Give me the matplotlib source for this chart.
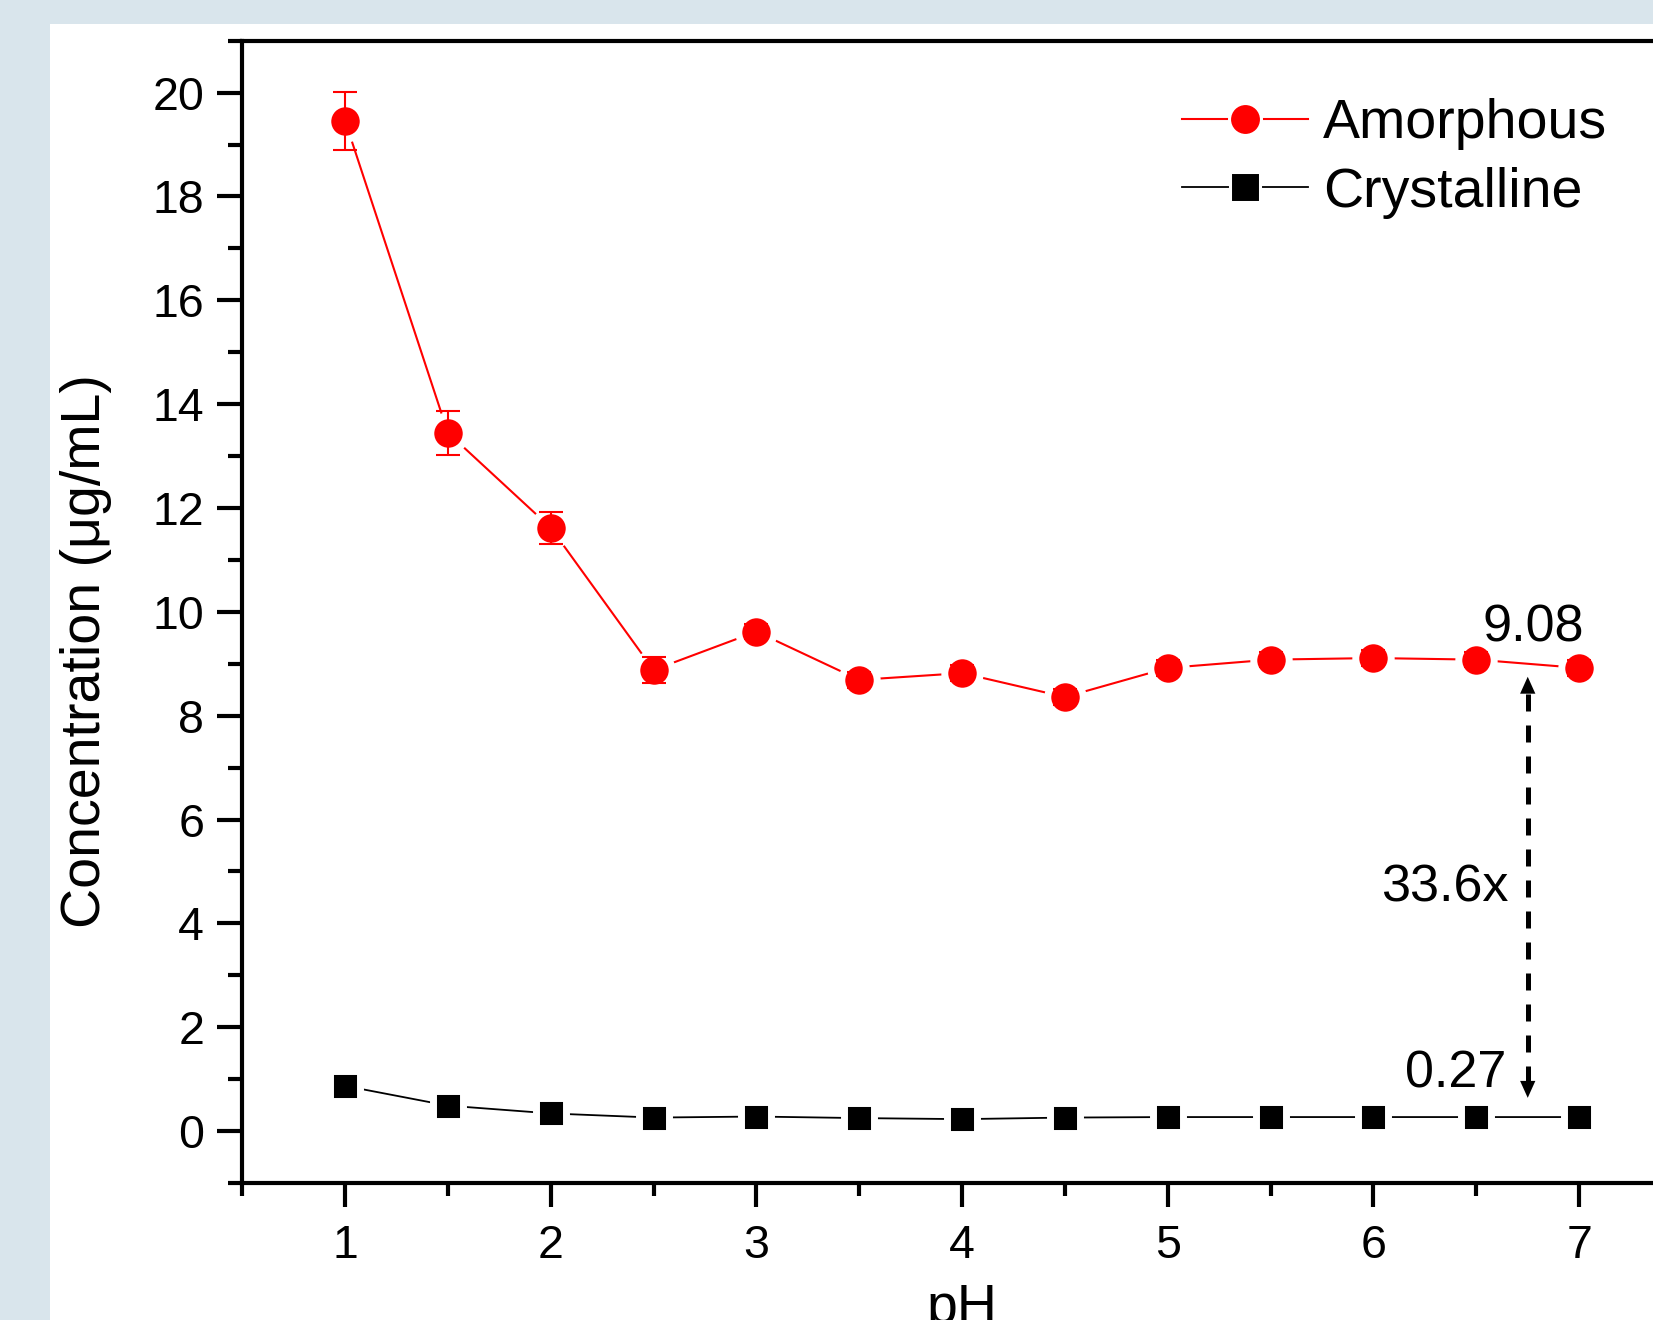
import matplotlib
matplotlib.use("Agg")
import matplotlib.pyplot as plt
from matplotlib.patches import Rectangle
from matplotlib.lines import Line2D
from matplotlib.ticker import MultipleLocator

# --- data -------------------------------------------------------------
ph = [1, 1.5, 2, 2.5, 3, 3.5, 4, 4.5, 5, 5.5, 6, 6.5, 7]
amorphous = [19.46, 13.45, 11.62, 8.88, 9.62, 8.69, 8.82, 8.36, 8.92, 9.08, 9.11, 9.08, 8.92]
amorphous_err = [0.56, 0.42, 0.31, 0.25, 0.15, 0.15, 0.15, 0.15, 0.15, 0.15, 0.15, 0.15, 0.15]
crystalline = [0.87, 0.49, 0.34, 0.26, 0.28, 0.25, 0.23, 0.26, 0.27, 0.27, 0.27, 0.27, 0.27]

x_ticks = [1, 2, 3, 4, 5, 6, 7]
y_ticks = [0, 2, 4, 6, 8, 10, 12, 14, 16, 18, 20]

amorph_label_val = 9.08
cryst_label_val = 0.27
fold = amorph_label_val / cryst_label_val  # 33.6x

# --- figure -------------------------------------------------------------
W, H = 1653, 1320
plt.rcParams["font.family"] = ["Liberation Sans", "DejaVu Sans"]
fig = plt.figure(figsize=(W / 100, H / 100), dpi=100)
fig.patch.set_facecolor("#d9e5ec")
fig.add_artist(Rectangle((50 / W, 0), 1, 1 - 24 / H, transform=fig.transFigure,
                         facecolor="white", edgecolor="none", zorder=0))

left_px, right_px, top_px, bot_px = 242.2, 1682.0, 40.7, 1183.0
ax = fig.add_axes([left_px / W, 1 - bot_px / H, (right_px - left_px) / W, (bot_px - top_px) / H])
ax.set_facecolor("white")

RED = "#ff0000"

# Amorphous series: line with white halo around markers, error bars on top
ax.plot(ph, amorphous, color=RED, lw=1.5, marker="o", ms=25.5, mfc=RED,
        mec="white", mew=5.0, zorder=3)
ax.errorbar(ph, amorphous, yerr=amorphous_err, fmt="none", ecolor=RED,
            elinewidth=1.5, capsize=8.4, capthick=1.5, zorder=4)

# Crystalline series
ax.plot(ph, crystalline, color="black", lw=1.3, marker="s", ms=22.3, mfc="black",
        mec="white", mew=5.0, zorder=3)

# Double-headed dashed arrow marking the fold difference
xa = 6.75
ax.plot([xa, xa], [0.92, 8.42], color="black", lw=3.6,
        linestyle=(0, (3.4, 2.8)), dash_capstyle="butt", zorder=2)
for tip, base in [(8.75, 8.40), (0.64, 0.95)]:
    ax.annotate("", xy=(xa, tip), xytext=(xa, base),
                arrowprops=dict(arrowstyle="-|>,head_length=1.22,head_width=0.55",
                                mutation_scale=10, color="black", lw=0,
                                shrinkA=0, shrinkB=0), zorder=2)

ax.text(6.777, 9.42, f"{amorph_label_val:.2f}", ha="center", va="baseline", fontsize=37.5)
ax.text(6.655, 4.42, f"{fold:.1f}x", ha="right", va="baseline", fontsize=37.5)
ax.text(6.645, 0.83, f"{cryst_label_val:.2f}", ha="right", va="baseline", fontsize=37.5)

# --- axes ---------------------------------------------------------------
ax.set_xlim(0.5, 7.5)
ax.set_ylim(-1, 21)
ax.set_xticks(x_ticks)
ax.set_yticks(y_ticks)
ax.xaxis.set_minor_locator(MultipleLocator(0.5))
ax.yaxis.set_minor_locator(MultipleLocator(1))
for s in ax.spines.values():
    s.set_linewidth(3.0)
ax.tick_params(which="both", direction="out", width=3.0, top=False, right=False,
               labelsize=33.5, colors="black")
ax.tick_params(axis="x", which="major", length=17, pad=12.5)
ax.tick_params(axis="x", which="minor", length=9.5)
ax.tick_params(axis="y", which="major", length=18, pad=9.5)
ax.tick_params(axis="y", which="minor", length=10)

ax.set_ylabel("Concentration (\u03bcg/mL)", fontsize=40, va="baseline")
ax.yaxis.set_label_coords((100 - left_px) / (right_px - left_px),
                          (bot_px - 651) / (bot_px - top_px))
ax.set_xlabel("pH", fontsize=40, va="baseline")
ax.xaxis.set_label_coords(0.5, (bot_px - 1322.8) / (bot_px - top_px))

# --- legend -------------------------------------------------------------
h_am = Line2D([], [], color=RED, lw=1.5, marker="o", ms=23, mfc=RED, mec="white", mew=2.2)
h_cr = Line2D([], [], color="black", lw=1.3, marker="s", ms=20.9, mfc="black", mec="white", mew=2.2)
ax.legend([h_am, h_cr], ["Amorphous", "Crystalline"], loc="upper left",
          bbox_to_anchor=(1182 / W, 1 - 98 / H), bbox_transform=fig.transFigure,
          frameon=False, fontsize=40, borderpad=0, borderaxespad=0,
          handlelength=2.27, handletextpad=0.27, labelspacing=0.3)

fig.savefig("out.png", dpi=100, facecolor=fig.get_facecolor())
